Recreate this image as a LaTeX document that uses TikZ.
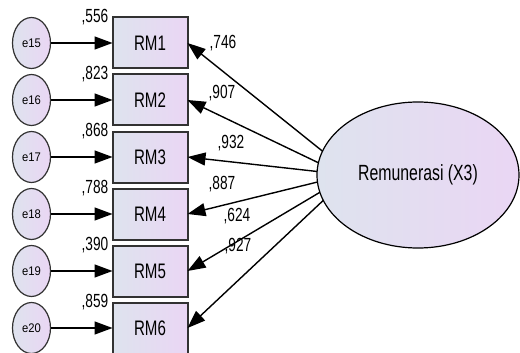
\documentclass[tikz,border=0pt]{standalone}
\usepackage{fontspec}
\setmainfont{Liberation Sans}[FakeStretch=0.72]
\newfontfamily\errfont{Liberation Sans}[FakeStretch=0.9]
\usetikzlibrary{shapes.geometric, arrows.meta, positioning}
\definecolor{shadeblue}{RGB}{222,227,238}
\definecolor{shadepink}{RGB}{234,214,244}
\definecolor{edgegray}{RGB}{50,50,50}

\begin{document}
\begin{tikzpicture}[x=1pt, y=1pt, node distance=6pt,
        indicator/.style={rectangle, draw=edgegray, line width=2pt, left color=shadeblue, right color=shadepink, minimum width=75pt, minimum height=51pt, inner sep=0pt, outer sep=0pt, font=\fontsize{21}{21}\selectfont},
        errterm/.style={ellipse, draw=edgegray, line width=1.2pt, left color=shadeblue, right color=shadepink, minimum width=38pt, minimum height=51pt, inner sep=0pt, outer sep=0pt, font=\errfont\fontsize{12.5}{13}\selectfont},
        latent/.style={ellipse, draw=black, line width=1.2pt, left color=shadeblue, right color=shadepink, minimum width=202pt, minimum height=146pt, inner sep=0pt, outer sep=0pt, font=\fontsize{22}{22}\selectfont},
        weight/.style={font=\fontsize{19}{19}\selectfont, inner sep=0pt},
        line/.style={draw, line width=1.4pt, -{Triangle[length=18pt, width=13pt]}}]

        \useasboundingbox (0,0) rectangle (520,-353);

        % Indicators
        \node [indicator] at (150,-43) (rm1) {RM1};
        \node [indicator, below=of rm1] (rm2) {RM2};
        \node [indicator, below=of rm2] (rm3) {RM3};
        \node [indicator, below=of rm3] (rm4) {RM4};
        \node [indicator, below=of rm4] (rm5) {RM5};
        \node [indicator, below=of rm5] (rm6) {RM6};

        % Error terms
        \node [errterm, left=62pt of rm1] (e15) {e15};
        \node [errterm, left=62pt of rm2] (e16) {e16};
        \node [errterm, left=62pt of rm3] (e17) {e17};
        \node [errterm, left=62pt of rm4] (e18) {e18};
        \node [errterm, left=62pt of rm5] (e19) {e19};
        \node [errterm, left=62pt of rm6] (e20) {e20};

        % Latent variable
        \node [latent] at (418,-175) (x3) {Remunerasi (X3)};

        % Squared multiple correlations
        \node [weight, left=4pt of rm1.north west] (r15) {,556};
        \node [weight, left=4pt of rm2.north west] (r16) {,823};
        \node [weight, left=4pt of rm3.north west] (r17) {,868};
        \node [weight, left=4pt of rm4.north west] (r18) {,788};
        \node [weight, left=4pt of rm5.north west] (r19) {,390};
        \node [weight, left=4pt of rm6.north west] (r20) {,859};

        % Loadings
        \node [weight] at (223,-43) (l1) {,746};
        \node [weight] at (222,-93) (l2) {,907};
        \node [weight] at (231,-143) (l3) {,932};
        \node [weight] at (222,-184) (l4) {,887};
        \node [weight] at (237,-216) (l5) {,624};
        \node [weight] at (238,-246) (l6) {,927};

        % Edges
        \path [line] (e15) -- (rm1);
        \path [line] (e16) -- (rm2);
        \path [line] (e17) -- (rm3);
        \path [line] (e18) -- (rm4);
        \path [line] (e19) -- (rm5);
        \path [line] (e20) -- (rm6);
        \path [line] (x3.166.5) -- (rm1.east);
        \path [line] (x3.173) -- (rm2.east);
        \path [line] (x3.178.3) -- (rm3.east);
        \path [line] (x3.184.6) -- (rm4.east);
        \path [line] (x3.190.4) -- (rm5.east);
        \path [line] (x3.195.9) -- (rm6.east);

    \end{tikzpicture}
\end{document}
